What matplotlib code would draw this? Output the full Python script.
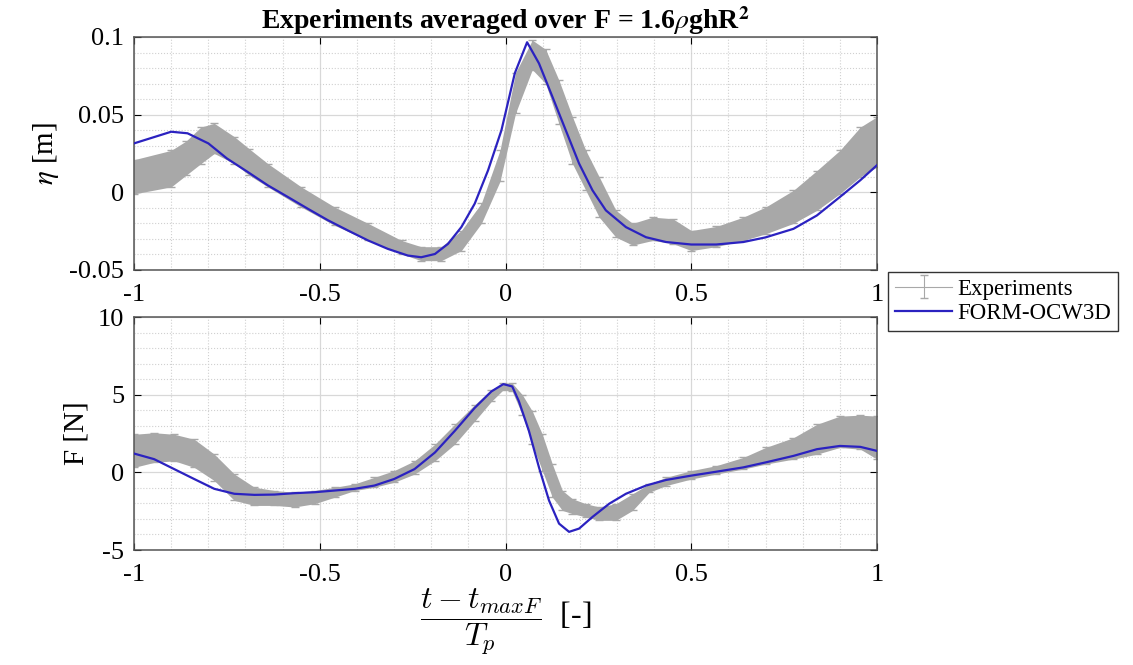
import numpy as np
import matplotlib
matplotlib.use("Agg")
import matplotlib.pyplot as plt
from matplotlib.ticker import MultipleLocator

plt.rcParams['font.family'] = ['Liberation Serif', 'DejaVu Serif']
plt.rcParams['mathtext.fontset'] = 'stix'
plt.rcParams['axes.unicode_minus'] = False

# --- surface elevation, model (FORM-OCW3D)
t_eta_model = [-1.0, -0.9, -0.856, -0.8, -0.75, -0.694, -0.64, -0.586, -0.532, -0.478,
               -0.424, -0.37, -0.317, -0.263, -0.227, -0.19, -0.155, -0.119, -0.083, -0.047,
               -0.011, 0.025, 0.058, 0.09, 0.126, 0.162, 0.198, 0.234, 0.27, 0.324,
               0.378, 0.432, 0.5, 0.567, 0.64, 0.7, 0.775, 0.838, 0.9, 0.955, 1.0]
eta_model = [0.0315, 0.039, 0.038, 0.0315, 0.0218, 0.0131, 0.0045, -0.003, -0.0106, -0.018,
             -0.0246, -0.031, -0.0364, -0.0407, -0.0418, -0.0397, -0.0332, -0.0224, -0.0073, 0.0142,
             0.040, 0.0767, 0.0966, 0.083, 0.0616, 0.040, 0.0185, 0.0013, -0.0116, -0.0224,
             -0.0289, -0.032, -0.0336, -0.0336, -0.032, -0.029, -0.0235, -0.0149, -0.003, 0.0078, 0.0175]

# --- surface elevation, experiments (band lower / upper)
t_eta_exp = [-1.0, -0.9, -0.86, -0.82, -0.784, -0.73, -0.69, -0.64, -0.55, -0.46,
             -0.37, -0.28, -0.227, -0.173, -0.119, -0.065, -0.015, 0.027, 0.072, 0.108,
             0.144, 0.18, 0.216, 0.252, 0.297, 0.342, 0.396, 0.45, 0.5, 0.567,
             0.64, 0.7, 0.775, 0.838, 0.9, 0.955, 1.0]
eta_exp_lo = [-0.001, 0.0035, 0.011, 0.0185, 0.025, 0.0185, 0.011, 0.0035, -0.0095, -0.0213,
              -0.031, -0.0397, -0.044, -0.044, -0.0375, -0.020, 0.007, 0.051, 0.079, 0.070,
              0.044, 0.0185, 0.0013, -0.016, -0.0289, -0.034, -0.031, -0.033, -0.0375, -0.035,
              -0.031, -0.0267, -0.020, -0.0116, -0.0009, 0.010, 0.0164]
eta_exp_hi = [0.021, 0.027, 0.033, 0.042, 0.0444, 0.0358, 0.028, 0.0185, 0.0035, -0.0095,
              -0.020, -0.031, -0.035, -0.035, -0.0246, -0.007, 0.027, 0.077, 0.098, 0.092,
              0.072, 0.0487, 0.027, 0.010, -0.0116, -0.020, -0.016, -0.017, -0.0246, -0.022,
              -0.016, -0.0095, 0.0013, 0.014, 0.027, 0.042, 0.0487]

# --- force, model
t_F_model = [-1.0, -0.946, -0.892, -0.838, -0.784, -0.73, -0.676, -0.622, -0.568, -0.514,
             -0.46, -0.406, -0.353, -0.3, -0.245, -0.19, -0.137, -0.083, -0.038, -0.006,
             0.018, 0.036, 0.063, 0.09, 0.117, 0.144, 0.171, 0.198, 0.234, 0.279,
             0.324, 0.378, 0.432, 0.5, 0.567, 0.64, 0.7, 0.775, 0.838, 0.9, 0.955, 1.0]
F_model = [1.21, 0.85, 0.21, -0.43, -1.06, -1.38, -1.45, -1.43, -1.34, -1.28,
           -1.17, -1.06, -0.85, -0.43, 0.21, 1.28, 2.66, 4.15, 5.21, 5.68,
           5.53, 4.57, 2.66, 0.32, -1.81, -3.30, -3.83, -3.62, -2.87, -2.02,
           -1.38, -0.85, -0.49, -0.21, 0.04, 0.32, 0.64, 1.06, 1.49, 1.70, 1.64, 1.38]

# --- force, experiments
t_F_exp = [-1.0, -0.946, -0.892, -0.838, -0.784, -0.73, -0.676, -0.622, -0.568, -0.514,
           -0.46, -0.406, -0.353, -0.3, -0.245, -0.19, -0.137, -0.083, -0.038, -0.006,
           0.018, 0.045, 0.072, 0.099, 0.126, 0.153, 0.18, 0.216, 0.252, 0.297,
           0.342, 0.387, 0.432, 0.5, 0.567, 0.64, 0.7, 0.775, 0.838, 0.9, 0.955, 1.0]
F_exp_lo = [0.32, 0.64, 0.74, 0.32, -0.53, -1.81, -2.13, -2.13, -2.23, -2.02,
            -1.6, -1.17, -0.96, -0.64, -0.11, 0.74, 1.81, 3.3, 4.57, 5.32,
            5.21, 3.72, 1.81, 0.11, -1.6, -2.45, -2.66, -2.87, -3.09, -3.09,
            -2.45, -1.28, -0.85, -0.43, -0.11, 0.21, 0.53, 0.85, 1.17, 1.60, 1.49, 0.85]
F_exp_hi = [2.45, 2.55, 2.45, 2.13, 1.17, -0.11, -0.96, -1.17, -1.28, -1.17,
            -0.96, -0.74, -0.32, 0.11, 0.74, 1.81, 3.09, 4.36, 5.32, 5.74,
            5.74, 5.0, 3.94, 2.45, 0.53, -1.17, -1.70, -2.02, -2.23, -2.02,
            -1.38, -0.74, -0.32, 0.11, 0.43, 0.96, 1.60, 2.23, 3.09, 3.62, 3.68, 3.62]

gray = '#a8a8a8'
blue = '#2b22c0'

fig = plt.figure(figsize=(11.33, 6.65), dpi=100)
ax1 = fig.add_axes([0.1183, 0.594, 0.6558, 0.3504])
ax2 = fig.add_axes([0.1183, 0.1729, 0.6558, 0.3504])


def draw(ax, te, lo, hi, tm, ym):
    lo = np.array(lo)
    hi = np.array(hi)
    mid = (lo + hi) / 2
    err = (hi - lo) / 2
    ax.fill_between(te, lo, hi, color=gray, lw=0, zorder=2)
    eb = ax.errorbar(te, mid, yerr=err, color=gray, lw=0.8, elinewidth=0.8,
                     capsize=3, zorder=2, label='Experiments')
    ln, = ax.plot(tm, ym, color=blue, lw=1.6, zorder=3, label='FORM-OCW3D')
    return eb, ln


def style(ax):
    ax.set_xlim(-1, 1)
    ax.set_xticks([-1, -0.5, 0, 0.5, 1])
    ax.set_xticklabels(['-1', '-0.5', '0', '0.5', '1'])
    ax.xaxis.set_minor_locator(MultipleLocator(0.1))
    ax.grid(which='major', color='#d8d8d8', lw=0.9, ls='-', zorder=0)
    ax.grid(which='minor', color='#d0d0d0', lw=0.8, ls=':', zorder=0)
    ax.set_axisbelow(True)
    ax.tick_params(which='both', direction='in', top=True, right=True, labelsize=19)
    ax.tick_params(which='major', length=5, width=0.8)
    ax.tick_params(which='minor', length=0)
    ax.tick_params(axis='x', pad=10)
    ax.tick_params(axis='y', pad=7)
    for s in ax.spines.values():
        s.set_color('#555555')
        s.set_linewidth(1.1)


eb, ln = draw(ax1, t_eta_exp, eta_exp_lo, eta_exp_hi, t_eta_model, eta_model)
style(ax1)
ax1.set_ylim(-0.05, 0.1)
ax1.set_yticks([-0.05, 0, 0.05, 0.1])
ax1.set_yticklabels(['-0.05', '0', '0.05', '0.1'])
ax1.yaxis.set_minor_locator(MultipleLocator(0.01))
ax1.set_ylabel(r'$\eta$ [m]', fontsize=21, labelpad=6)
ax1.set_title(r'Experiments averaged over F = 1.6$\rho$ghR$^{\mathbf{2}}$',
              fontsize=20, fontweight='bold', pad=2)

draw(ax2, t_F_exp, F_exp_lo, F_exp_hi, t_F_model, F_model)
style(ax2)
ax2.set_ylim(-5, 10)
ax2.set_yticks([-5, 0, 5, 10])
ax2.yaxis.set_minor_locator(MultipleLocator(1))
ax2.set_ylabel('F [N]', fontsize=21, labelpad=6)
ax2.set_xlabel(r'$\dfrac{t - t_{maxF}}{T_p}$  [-]', fontsize=23, math_fontfamily='cm', labelpad=0)

leg = fig.legend([eb, ln], ['Experiments', 'FORM-OCW3D'], loc='upper left',
                 bbox_to_anchor=(0.784, 0.591), fontsize=16.5, fancybox=False,
                 edgecolor='#333333', framealpha=1, handlelength=2.5,
                 borderpad=0.3, labelspacing=0.15, handletextpad=0.2, borderaxespad=0)
leg.get_frame().set_linewidth(1.0)

fig.savefig('out.png', dpi=100)
